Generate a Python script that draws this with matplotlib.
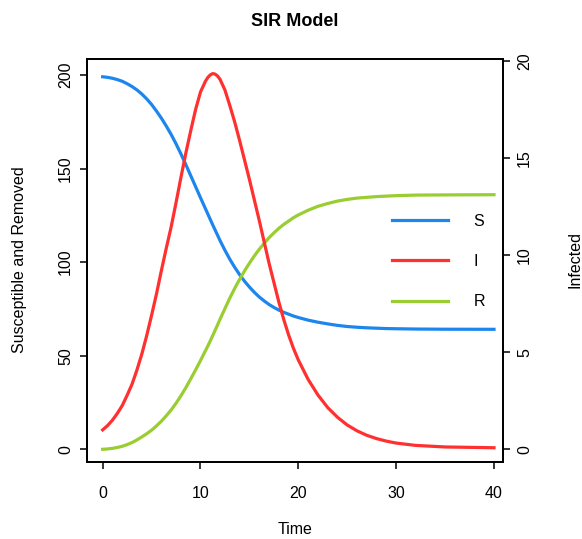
import matplotlib
matplotlib.use("Agg")
from matplotlib import pyplot as plt

plt.rcParams['font.family'] = ['Liberation Sans', 'DejaVu Sans']

# values
time = [0, 0.5, 1, 1.5, 2, 2.5, 3, 3.5, 4, 4.5, 5, 5.5, 6, 6.5, 7, 7.5, 8, 8.5, 9, 9.5,
        10, 10.5, 10.75, 11, 11.25, 11.5, 11.75, 12, 12.5, 13, 13.5, 14, 14.5, 15, 15.5,
        16, 16.5, 17, 17.5, 18, 18.5, 19, 19.5, 20, 21, 22, 23, 24, 25, 26, 27, 28, 29,
        30, 32, 35, 40]
susceptible = [199.0, 198.7, 198.2, 197.5, 196.6, 195.3, 193.8, 192.0, 189.8, 187.2,
               184.2, 180.7, 176.9, 172.7, 168.2, 163.2, 157.8, 152.1, 146.2, 140.3,
               134.4, 128.6, 125.7, 122.8, 119.9, 117.1, 114.3, 111.5, 106.3, 101.5,
               97.2, 93.3, 89.8, 86.7, 83.9,
               81.4, 79.3, 77.4, 75.8, 74.4, 73.2, 72.2, 71.2, 70.4, 69.0,
               67.9, 67.0, 66.2, 65.6, 65.2, 64.9, 64.7, 64.5,
               64.4, 64.25, 64.15, 64.1]
infected = [1.0, 1.22, 1.5, 1.85, 2.25, 2.78, 3.35, 4.08, 4.9, 5.85,
            6.9, 8.0, 9.2, 10.35, 11.45, 12.7, 14.0, 15.25, 16.4, 17.5,
            18.4, 18.95, 19.15, 19.28, 19.35, 19.32, 19.22, 19.05, 18.5, 17.7,
            16.85, 15.9, 14.9, 13.9, 12.85,
            11.8, 10.7, 9.6, 8.6, 7.6, 6.7, 5.9, 5.2, 4.6, 3.6,
            2.8, 2.15, 1.65, 1.25, 0.95, 0.72, 0.55, 0.42,
            0.32, 0.2, 0.12, 0.08]
removed = [0.0, 0.2, 0.5, 1.0, 1.6, 2.5, 3.6, 5.0, 6.6, 8.3,
           10.2, 12.5, 15.0, 17.9, 21.0, 24.6, 28.6, 32.9, 37.6, 42.4,
           47.4, 52.6, 55.2, 57.9, 60.75, 63.6, 66.5, 69.5, 75.2, 80.8,
           86.0, 90.8, 95.3, 99.4, 103.3,
           106.8, 110.0, 113.0, 115.6, 118.0, 120.1, 121.9, 123.7, 125.2, 127.7,
           129.8, 131.3, 132.6, 133.5, 134.2, 134.6, 135.0, 135.25,
           135.5, 135.8, 135.9, 136.0]
series_names = ["S", "I", "R"]
colours = ["#1C86EE", "#FF3030", "#9ACD32"]

W, H = 582, 539
fig = plt.figure(figsize=(W / 100, H / 100), dpi=100)
ax = fig.add_axes([87 / W, 1 - 462.3 / H, (503 - 87) / W, (462.3 - 59) / H])
ax2 = ax.twinx()

l1, = ax.plot(time, susceptible, color=colours[0], lw=2.3, solid_joinstyle='round')
l3, = ax.plot(time, removed, color=colours[2], lw=2.3, solid_joinstyle='round')
l2, = ax2.plot(time, infected, color=colours[1], lw=2.3, solid_joinstyle='round')

ax.set_xlim(-1.6, 40.92)
ax.set_ylim(-6.94, 208.5)
ax2.set_ylim(-0.67, 20.1)
ax.set_xticks([0, 10, 20, 30, 40])
ax.set_yticks([0, 50, 100, 150, 200])
ax2.set_yticks([0, 5, 10, 15, 20])

for a in (ax, ax2):
    for s in a.spines.values():
        s.set_linewidth(1.3)
    a.tick_params(direction='out', length=5, width=1.1, labelsize=11.5, pad=5)
ax.tick_params(axis='x', pad=12)
ax.tick_params(axis='y', labelrotation=90)
ax2.tick_params(axis='y', labelrotation=90)
for t in ax.get_yticklabels():
    t.set_va('center')
for t in ax2.get_yticklabels():
    t.set_va('center')

fig.text(295 / W, 1 - 21 / H, "SIR Model", ha='center', va='center',
         fontsize=13, fontweight='bold')
fig.text(295 / W, 1 - 530 / H, "Time", ha='center', va='center', fontsize=11.5)
fig.text(20 / W, 1 - 260 / H, "Susceptible and Removed", ha='center', va='center',
         rotation=90, fontsize=11.5)
fig.text(575 / W, 1 - 260 / H, "Infected", ha='center', va='center',
         rotation=90, fontsize=11.5)

ax2.legend([l1, l2, l3], series_names, loc='upper left',
           bbox_to_anchor=(392 / W, 1 - 214 / H), bbox_transform=fig.transFigure,
           frameon=False, fontsize=11.5, handlelength=3.5, handletextpad=1.6,
           labelspacing=1.57, borderpad=0, borderaxespad=0)

plt.savefig("out.png", dpi=100)
